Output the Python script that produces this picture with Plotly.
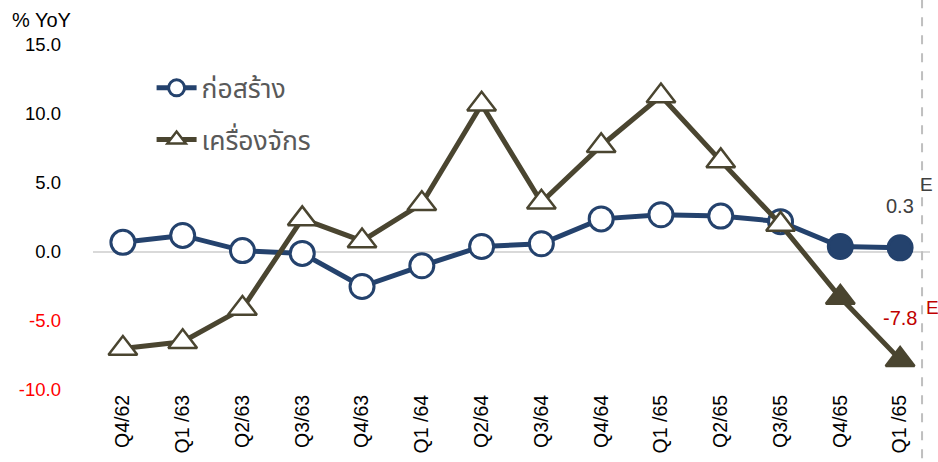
import plotly.graph_objects as go

quarters = ["Q4/62", "Q1/63", "Q2/63", "Q3/63", "Q4/63", "Q1/64", "Q2/64",
            "Q3/64", "Q4/64", "Q1/65", "Q2/65", "Q3/65", "Q4/65", "Q1 /65"]
tick_labels = ["Q4/62", "Q1 /63", "Q2/63", "Q3/63", "Q4/63", "Q1 /64", "Q2/64",
               "Q3/64", "Q4/64", "Q1 /65", "Q2/65", "Q3/65", "Q4/65", "Q1 /65"]
construction = [0.7, 1.2, 0.1, -0.1, -2.5, -1.0, 0.4, 0.6, 2.4, 2.7, 2.6, 2.2, 0.4, 0.3]
machinery = [-7.0, -6.5, -4.1, 2.4, 0.8, 3.5, 10.7, 3.6, 7.7, 11.3, 6.6, 2.0, -3.3, -7.8]
n_estimate = 2  # last points are estimates (filled markers)

y_ticks = [15, 10, 5, 0, -5, -10]

navy = "#24426d"
olive = "#4a4530"
x_idx = list(range(len(quarters)))

def fills(color, n):
    return ["white"] * (n - n_estimate) + [color] * n_estimate

fig = go.Figure()

fig.add_trace(go.Scatter(
    x=x_idx, y=construction, mode="lines+markers", name="ก่อสร้าง",
    line=dict(color=navy, width=5),
    marker=dict(symbol="circle", size=24, color=fills(navy, len(construction)),
                line=dict(color=navy, width=3)),
    legend="legend"))

fig.add_trace(go.Scatter(
    x=x_idx, y=machinery, mode="lines+markers", name="เครื่องจักร",
    line=dict(color=olive, width=5),
    marker=dict(symbol="triangle-up", size=25, color=fills(olive, len(machinery)),
                line=dict(color=olive, width=2.5)),
    legend="legend2"))

def tick_text(v):
    s = f"{v:.1f}"
    if v < 0:
        return f"<span style='color:#ff0000'>{s}</span>"
    return s

fig.update_xaxes(
    range=[-0.5, 13.5], tickvals=x_idx, ticktext=tick_labels, tickangle=-90,
    showgrid=False, zeroline=False, showline=False, automargin=False,
    tickfont=dict(family="Liberation Sans, Arial", size=19.5, color="black"))

fig.update_yaxes(
    range=[-10, 15], tickvals=y_ticks, ticktext=[tick_text(v) for v in y_ticks],
    showgrid=False, zeroline=True, zerolinecolor="#d9d9d9", zerolinewidth=2,
    showline=False, ticklabelstandoff=31, automargin=False,
    tickfont=dict(family="Liberation Sans, Arial", size=18.5, color="black"))

# estimate divider
fig.add_shape(type="line", xref="paper", yref="paper", x0=0.9905, x1=0.9905,
              y0=-0.25, y1=1.15, line=dict(color="#bfbfbf", width=2, dash="dash"))

fig.add_annotation(xref="paper", yref="paper", x=-0.099, y=1.072, xanchor="left", yanchor="middle",
                   text="% YoY", showarrow=False,
                   font=dict(family="Liberation Sans, Arial", size=20, color="black"))

fig.add_annotation(x=13, y=construction[-1], yshift=42, text=f"{construction[-1]:.1f}",
                   showarrow=False, font=dict(family="Liberation Sans, Arial", size=20, color="#404040"))
fig.add_annotation(x=13, y=construction[-1], xshift=26, yshift=63, text="E",
                   showarrow=False, font=dict(family="Liberation Sans, Arial", size=19, color="#404040"))
fig.add_annotation(x=13, y=machinery[-1], yshift=42, text=f"{machinery[-1]:.1f}",
                   showarrow=False, font=dict(family="Liberation Sans, Arial", size=20, color="#c00000"))
fig.add_annotation(x=13, y=machinery[-1], xshift=32, yshift=52, text="E",
                   showarrow=False, font=dict(family="Liberation Sans, Arial", size=19, color="#c00000"))

legend_style = dict(xref="paper", yref="paper", xanchor="left", yanchor="middle",
                    bgcolor="rgba(0,0,0,0)", itemwidth=40,
                    font=dict(family="Noto Sans Thai, Noto Sans, DejaVu Sans", size=26.5, color="#595959"))

fig.update_layout(
    width=938, height=462,
    margin=dict(l=93, r=8, t=45, b=72),
    plot_bgcolor="white", paper_bgcolor="white",
    showlegend=True,
    legend=dict(x=0.07, y=0.875, **legend_style),
    legend2=dict(x=0.07, y=0.725, **legend_style),
)

# drop the default body margin so the figure fills the window exactly
fig.write_html("out.html", config={"displayModeBar": False},
               post_script="document.body.style.margin='0';document.body.style.overflow='hidden';")
